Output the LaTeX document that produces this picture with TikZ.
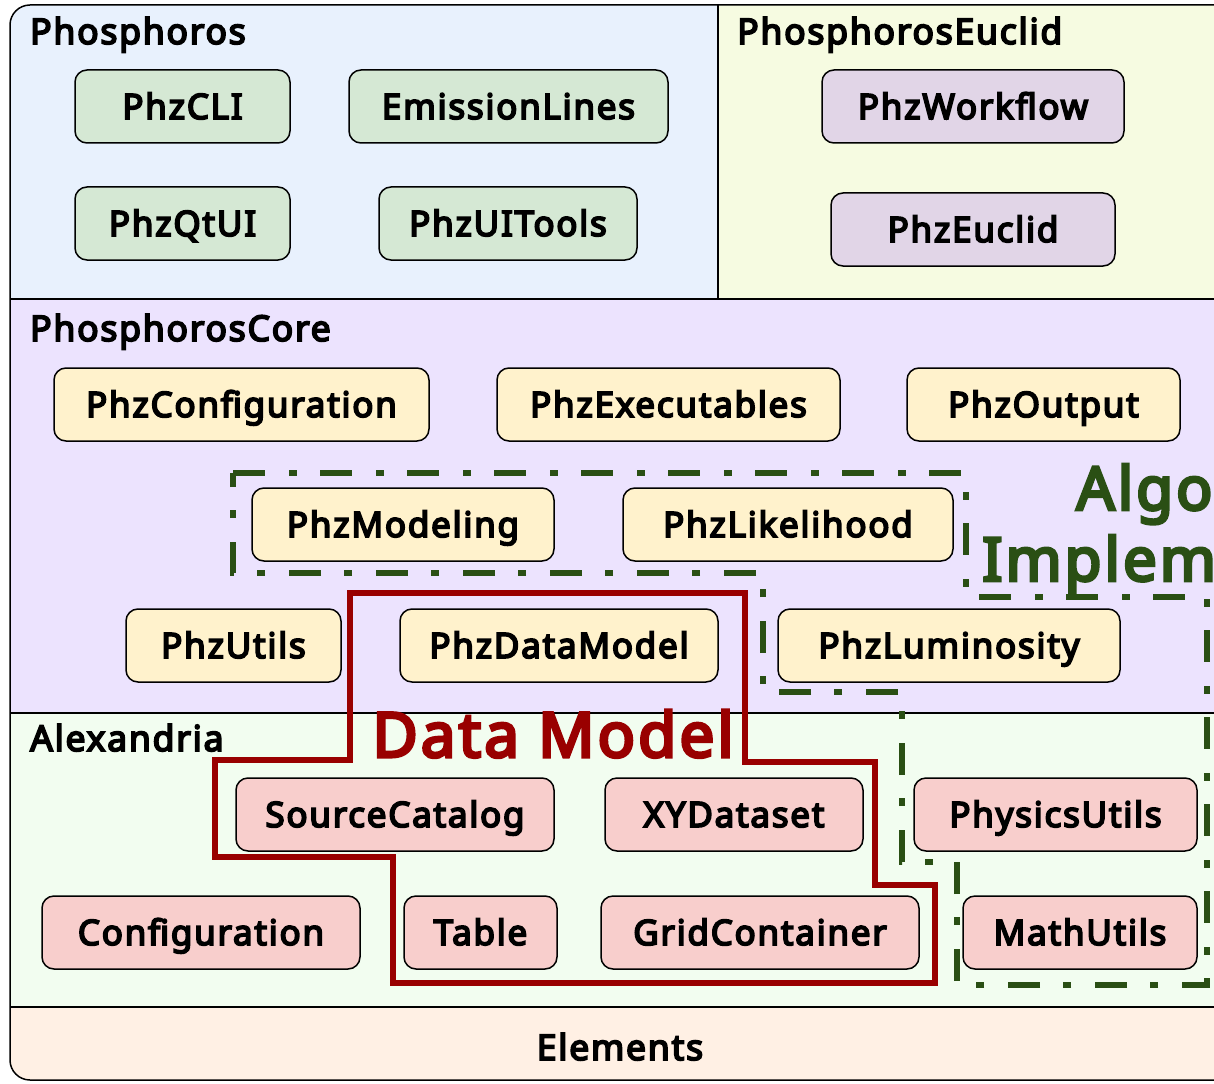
\documentclass[tikz,border=0pt]{standalone}
\usepackage{fontspec}
\setmainfont{Noto Sans}[BoldFont={Noto Sans},BoldFeatures={FakeBold=5,LetterSpace=5}]
\usepackage{tikz}

\definecolor{phzblue}{HTML}{E8F1FD}
\definecolor{euclidbg}{HTML}{F6FBE1}
\definecolor{corebg}{HTML}{ECE3FE}
\definecolor{alexbg}{HTML}{F2FDF0}
\definecolor{elembg}{HTML}{FFF0E4}
\definecolor{modgreen}{HTML}{D5E8D4}
\definecolor{modpurple}{HTML}{E1D5E7}
\definecolor{modyellow}{HTML}{FFF2CC}
\definecolor{modred}{HTML}{F8CECC}
\definecolor{dmred}{HTML}{990000}
\definecolor{algogreen}{HTML}{2A4F14}

\begin{document}
\begin{tikzpicture}[x=1pt,y=-1pt,
  mod/.style={draw,line width=1.5pt,rounded corners=12pt,minimum height=73pt,inner sep=0pt,
    text height=25pt,text depth=0pt,font=\fontsize{35}{42}\selectfont\bfseries},
  layer/.style={anchor=base west,inner sep=0pt,font=\fontsize{35.5}{42}\selectfont\bfseries},
  sep/.style={line width=1.5pt}]
\useasboundingbox (0,0) rectangle (1214,1083);
\clip (0,0) rectangle (1214,1083);
\begin{scope}
\clip[rounded corners=20pt] (10,5) rectangle (1260,1080);
\fill[phzblue] (10,5) rectangle (718,299);
\fill[euclidbg] (718,5) rectangle (1260,299);
\fill[corebg] (10,299) rectangle (1260,713);
\fill[alexbg] (10,713) rectangle (1260,1007);
\fill[elembg] (10,1007) rectangle (1260,1080);
\end{scope}
\draw[sep] (10,299) -- (1260,299);
\draw[sep] (718,5) -- (718,299);
\draw[sep] (10,713) -- (1260,713);
\draw[sep] (10,1007) -- (1260,1007);
\draw[sep,rounded corners=20pt] (10,5) rectangle (1260,1080);

\node[layer] (phosphoros) at (30,44) {Phosphoros};
\node[layer] (euclid) at (737,44) {PhosphorosEuclid};
\node[layer] (core) at (30,341) {PhosphorosCore};
\node[layer] (alexandria) at (30,751) {Alexandria};
\node[layer,anchor=base] (elements) at (620,1060) {Elements};

\node[mod,fill=modgreen,minimum width=215pt] (phzcli) at (182.5,106.5) {PhzCLI};
\node[mod,fill=modgreen,minimum width=319pt] (emission) at (508.5,106.5) {EmissionLines};
\node[mod,fill=modgreen,minimum width=215pt] (phzqtui) at (182.5,223.5) {PhzQtUI};
\node[mod,fill=modgreen,minimum width=258pt] (phzuitools) at (508,223.5) {PhzUITools};
\node[mod,fill=modpurple,minimum width=302pt] (phzworkflow) at (973,106.5) {PhzWorkflow};
\node[mod,fill=modpurple,minimum width=284pt] (phzeuclid) at (973,229.5) {PhzEuclid};

\node[mod,fill=modyellow,minimum width=375pt] (phzconfig) at (241.5,404.5) {PhzConfiguration};
\node[mod,fill=modyellow,minimum width=343pt] (phzexec) at (668.5,404.5) {PhzExecutables};
\node[mod,fill=modyellow,minimum width=273pt] (phzoutput) at (1043.5,404.5) {PhzOutput};
\node[mod,fill=modyellow,minimum width=302pt] (phzmodeling) at (403,524.5) {PhzModeling};
\node[mod,fill=modyellow,minimum width=330pt] (phzlikelihood) at (788,524.5) {PhzLikelihood};
\node[mod,fill=modyellow,minimum width=215pt] (phzutils) at (233.5,645.5) {PhzUtils};
\node[mod,fill=modyellow,minimum width=318pt] (phzdatamodel) at (559,645.5) {PhzDataModel};
\node[mod,fill=modyellow,minimum width=342pt] (phzlumi) at (949,645.5) {PhzLuminosity};

\node[mod,fill=modred,minimum width=318pt] (sourcecat) at (395,814.5) {SourceCatalog};
\node[mod,fill=modred,minimum width=258pt] (xydataset) at (734,814.5) {XYDataset};
\node[mod,fill=modred,minimum width=283pt] (physicsutils) at (1055.5,814.5) {PhysicsUtils};
\node[mod,fill=modred,minimum width=318pt] (configuration) at (201,932.5) {Configuration};
\node[mod,fill=modred,minimum width=153pt] (table) at (480.5,932.5) {Table};
\node[mod,fill=modred,minimum width=318pt] (gridcontainer) at (760,932.5) {GridContainer};
\node[mod,fill=modred,minimum width=234pt] (mathutils) at (1080,932.5) {MathUtils};

\draw[dmred,line width=6pt] (350,593) -- (745,593) -- (745,762) -- (875,762) -- (875,885)
  -- (935,885) -- (935,983) -- (393,983) -- (393,857) -- (215,857) -- (215,760)
  -- (350,760) -- cycle;
\node[anchor=base,inner sep=0pt,text=dmred,font=\fontsize{62}{72}\selectfont\bfseries]
  (datamodel) at (553,757) {Data Model};

\draw[algogreen,line width=6pt,dash pattern=on 32pt off 24pt on 8pt off 23pt]
  (233,473) -- (966,473) -- (966,597) -- (1207,597) -- (1207,985) -- (957,985)
  -- (957,862) -- (902,862) -- (902,692) -- (763,692) -- (763,573) -- (233,573) -- cycle;
\node[anchor=north west,inner sep=0pt,align=center,text=algogreen,
  font=\fontsize{60}{71}\selectfont\bfseries] (algo) at (982,464)
  {Algorithm\\Implementation};
\end{tikzpicture}
\end{document}
